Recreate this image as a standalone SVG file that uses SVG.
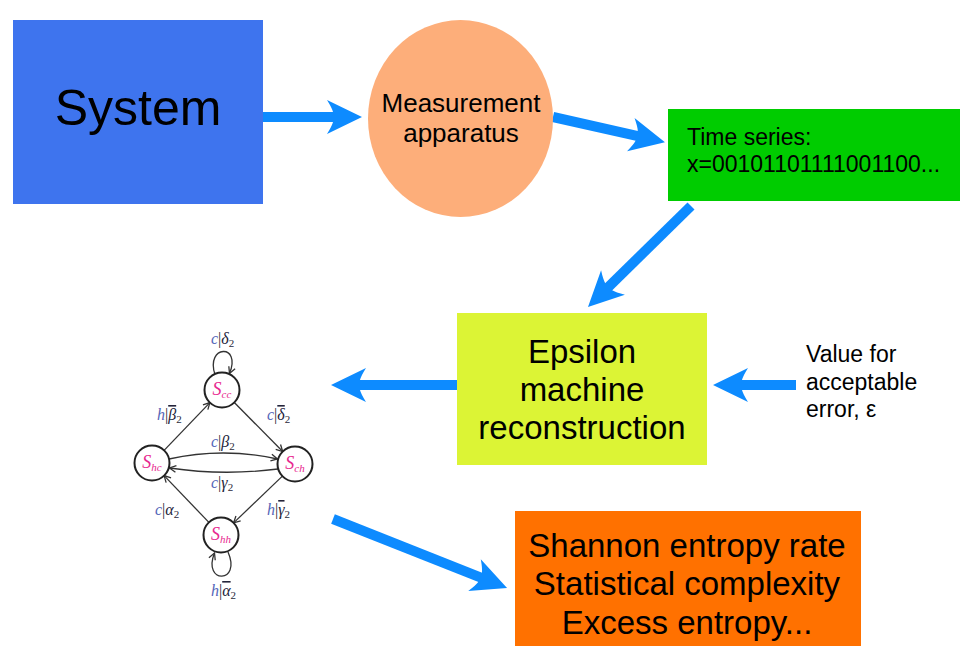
<svg xmlns="http://www.w3.org/2000/svg" width="964" height="646" viewBox="0 0 964 646">
<style>
.sans{font-family:"Liberation Sans",Arial,sans-serif;fill:#000}
.big{stroke:#0d8bff;stroke-width:10;fill:none}
.edge{stroke:#333;stroke-width:1.3;fill:none}
.st{fill:#fff;stroke:#222;stroke-width:2}
.sl{font-family:"Liberation Serif","Times New Roman",serif;font-style:italic;font-size:18px;fill:#e8288f}
.lb{font-family:"Liberation Serif","Times New Roman",serif;font-style:italic;font-size:16px;fill:#333}
.v{fill:#5566b8}
.k{fill:#2a2a3a}
.g{fill:#23233a}
.ov{text-decoration:overline}
.sub{font-size:11px;font-style:normal}
</style>
<defs>
<marker id="ah" markerUnits="userSpaceOnUse" markerWidth="60" markerHeight="40" viewBox="-30 -20 60 40" refX="0" refY="0" orient="auto" overflow="visible">
<path d="M22,0 L-13,-17 Q-8,-9 -7,-5 L-7,5 Q-8,9 -13,17 Z" fill="#0d8bff"/>
</marker>
<marker id="sa" markerUnits="userSpaceOnUse" markerWidth="12" markerHeight="10" viewBox="-8 -5 12 10" refX="0" refY="0" orient="auto" overflow="visible">
<path d="M-6.5,-3.4 L0,0 L-6.5,3.4" fill="none" stroke="#333" stroke-width="1.3"/>
</marker>
</defs>

<g id="connectors">
<line class="big" x1="263" y1="117" x2="340" y2="117" marker-end="url(#ah)"/>
<line class="big" x1="553" y1="117" x2="643.5" y2="137.4" marker-end="url(#ah)"/>
<line class="big" x1="691" y1="206" x2="603.7" y2="291.6" marker-end="url(#ah)"/>
<line class="big" x1="457" y1="385" x2="353" y2="385" marker-end="url(#ah)"/>
<line class="big" x1="796" y1="385" x2="735" y2="385" marker-end="url(#ah)"/>
<line class="big" x1="333" y1="519" x2="486.6" y2="579.9" marker-end="url(#ah)"/>
</g>

<g id="system">
<rect x="13" y="20" width="250" height="184" fill="#3e74ee"/>
<text class="sans" x="138" y="125" font-size="50" text-anchor="middle">System</text>
</g>

<g id="measurement">
<ellipse cx="460.5" cy="118.5" rx="92.5" ry="98.5" fill="#fdae7a"/>
<text class="sans" x="461" y="112" font-size="26" text-anchor="middle">Measurement</text>
<text class="sans" x="461" y="142" font-size="26" text-anchor="middle">apparatus</text>
</g>

<g id="timeseries">
<rect x="668" y="109" width="292" height="92" fill="#00cc00"/>
<text class="sans" x="687" y="145" font-size="23">Time series:</text>
<text class="sans" x="687" y="172" font-size="23">x=00101101111001100...</text>
</g>

<g id="epsilon">
<rect x="457" y="313" width="250" height="152" fill="#dcf435"/>
<text class="sans" x="582" y="363" font-size="33" text-anchor="middle">Epsilon</text>
<text class="sans" x="582" y="401" font-size="33" text-anchor="middle">machine</text>
<text class="sans" x="582" y="439" font-size="33" text-anchor="middle">reconstruction</text>
</g>

<g id="error">
<text class="sans" x="806" y="362" font-size="23" fill="#222">Value for</text>
<text class="sans" x="806" y="390" font-size="23" fill="#222">acceptable</text>
<text class="sans" x="806" y="417" font-size="23" fill="#222">error, ε</text>
</g>

<g id="measures">
<rect x="515" y="511" width="346" height="136" fill="#ff7100"/>
<text class="sans" x="687" y="557" font-size="33" text-anchor="middle">Shannon entropy rate</text>
<text class="sans" x="687" y="595" font-size="33" text-anchor="middle">Statistical complexity</text>
<text class="sans" x="687" y="634" font-size="33" text-anchor="middle">Excess entropy...</text>
</g>

<g id="epsilon-machine">
<g id="em-edges">
<path class="edge" d="M215,374.5 C205,345 242,343 229.5,373.5" marker-end="url(#sa)"/>
<line class="edge" x1="164.1" y1="450.4" x2="209.9" y2="402.6" marker-end="url(#sa)"/>
<line class="edge" x1="234.3" y1="402.5" x2="282.7" y2="451.5" marker-end="url(#sa)"/>
<path class="edge" d="M169,459 Q223,447 277.5,459" marker-end="url(#sa)"/>
<path class="edge" d="M278,469 Q223,476 169.5,468" marker-end="url(#sa)"/>
<line class="edge" x1="282.4" y1="476.1" x2="233.6" y2="522.9" marker-end="url(#sa)"/>
<line class="edge" x1="208.9" y1="522.4" x2="164.1" y2="475.6" marker-end="url(#sa)"/>
<path class="edge" d="M228,552 C242,584 202,584 214.5,553" marker-end="url(#sa)"/>
</g>
<g id="s-cc"><circle class="st" cx="222" cy="390" r="17.5"/><text class="sl" x="222" y="395" text-anchor="middle">S<tspan font-size="11" dy="3">cc</tspan></text></g>
<g id="s-hc"><circle class="st" cx="152" cy="463" r="17.5"/><text class="sl" x="152" y="468" text-anchor="middle">S<tspan font-size="11" dy="3">hc</tspan></text></g>
<g id="s-ch"><circle class="st" cx="295" cy="464" r="17.5"/><text class="sl" x="295" y="469" text-anchor="middle">S<tspan font-size="11" dy="3">ch</tspan></text></g>
<g id="s-hh"><circle class="st" cx="221" cy="535" r="17.5"/><text class="sl" x="221" y="540" text-anchor="middle">S<tspan font-size="11" dy="3">hh</tspan></text></g>
<g id="em-labels">
<text class="lb" x="211" y="344"><tspan class="v">c</tspan><tspan class="k" font-style="normal">|</tspan><tspan class="g">δ</tspan><tspan class="k sub" dy="3">2</tspan></text>
<text class="lb" x="157" y="420"><tspan class="v">h</tspan><tspan class="k" font-style="normal">|</tspan><tspan class="g ov">β</tspan><tspan class="k sub" dy="3">2</tspan></text>
<text class="lb" x="267" y="420"><tspan class="v">c</tspan><tspan class="k" font-style="normal">|</tspan><tspan class="g ov">δ</tspan><tspan class="k sub" dy="3">2</tspan></text>
<text class="lb" x="211" y="447"><tspan class="v">c</tspan><tspan class="k" font-style="normal">|</tspan><tspan class="g">β</tspan><tspan class="k sub" dy="3">2</tspan></text>
<text class="lb" x="211" y="488"><tspan class="v">c</tspan><tspan class="k" font-style="normal">|</tspan><tspan class="g">γ</tspan><tspan class="k sub" dy="3">2</tspan></text>
<text class="lb" x="155" y="515"><tspan class="v">c</tspan><tspan class="k" font-style="normal">|</tspan><tspan class="g">α</tspan><tspan class="k sub" dy="3">2</tspan></text>
<text class="lb" x="267" y="515"><tspan class="v">h</tspan><tspan class="k" font-style="normal">|</tspan><tspan class="g ov">γ</tspan><tspan class="k sub" dy="3">2</tspan></text>
<text class="lb" x="211" y="596"><tspan class="v">h</tspan><tspan class="k" font-style="normal">|</tspan><tspan class="g ov">α</tspan><tspan class="k sub" dy="3">2</tspan></text>
</g>
</g>
</svg>
